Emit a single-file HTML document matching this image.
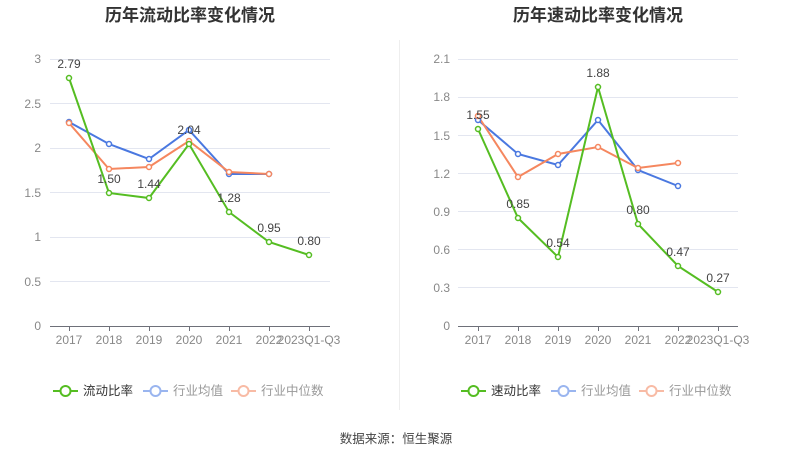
<!DOCTYPE html>
<html><head><meta charset="utf-8"><style>
body{margin:0;background:#fff}
svg text{font-family:"Liberation Sans","Noto Sans CJK SC",sans-serif}
</style></head><body>
<svg width="793" height="459" xmlns="http://www.w3.org/2000/svg">
<text x="190" y="21" text-anchor="middle" font-size="17" font-weight="bold" fill="#333">历年流动比率变化情况</text>
<text x="598" y="21" text-anchor="middle" font-size="17" font-weight="bold" fill="#333">历年速动比率变化情况</text>
<line x1="399.5" y1="40" x2="399.5" y2="410" stroke="#eee"/>
<g stroke="#e3e6f0" stroke-width="1">
<line x1="50" x2="330" y1="59.5" y2="59.5"/><line x1="50" x2="330" y1="103.5" y2="103.5"/><line x1="50" x2="330" y1="148.5" y2="148.5"/><line x1="50" x2="330" y1="192.5" y2="192.5"/><line x1="50" x2="330" y1="237.5" y2="237.5"/><line x1="50" x2="330" y1="281.5" y2="281.5"/>
<line x1="458" x2="738" y1="59.5" y2="59.5"/><line x1="458" x2="738" y1="97.5" y2="97.5"/><line x1="458" x2="738" y1="135.5" y2="135.5"/><line x1="458" x2="738" y1="173.5" y2="173.5"/><line x1="458" x2="738" y1="211.5" y2="211.5"/><line x1="458" x2="738" y1="249.5" y2="249.5"/><line x1="458" x2="738" y1="287.5" y2="287.5"/>
</g>
<g stroke="#6e7079"><line x1="50" x2="330" y1="326.5" y2="326.5"/><line x1="458" x2="738" y1="326.5" y2="326.5"/>
<path d="M69.5 326v5M109.5 326v5M149.5 326v5M189.5 326v5M229.5 326v5M269.5 326v5M309.5 326v5M478.5 326v5M518.5 326v5M558.5 326v5M598.5 326v5M638.5 326v5M678.5 326v5M718.5 326v5"/></g>
<g font-size="12" fill="#888" text-anchor="end">
<text x="41" y="63">3</text><text x="41" y="108">2.5</text><text x="41" y="152">2</text><text x="41" y="197">1.5</text><text x="41" y="241">1</text><text x="41" y="286">0.5</text><text x="41" y="330">0</text>
<text x="450" y="63">2.1</text><text x="450" y="101">1.8</text><text x="450" y="140">1.5</text><text x="450" y="178">1.2</text><text x="450" y="216">0.9</text><text x="450" y="254">0.6</text><text x="450" y="292">0.3</text><text x="450" y="330">0</text>
</g>
<g font-size="12" fill="#888" text-anchor="middle">
<text x="69" y="344">2017</text><text x="109" y="344">2018</text><text x="149" y="344">2019</text><text x="189" y="344">2020</text><text x="229" y="344">2021</text><text x="269" y="344">2022</text><text x="309" y="344">2023Q1-Q3</text>
<text x="478" y="344">2017</text><text x="518" y="344">2018</text><text x="558" y="344">2019</text><text x="598" y="344">2020</text><text x="638" y="344">2021</text><text x="678" y="344">2022</text><text x="718" y="344">2023Q1-Q3</text>
</g>
<g fill="#fff" stroke-width="2">
<polyline fill="none" stroke="#4a78e0" points="69,122 109,144 149,159 189,130 229,174 269,174"/>
<polyline fill="none" stroke="#f5875f" points="69,123 109,169 149,167 189,141 229,172 269,174"/>
<polyline fill="none" stroke="#55bd22" points="69,78 109,193 149,198 189,144 229,212 269,242 309,255"/>
<polyline fill="none" stroke="#4a78e0" points="478,120 518,154 558,165 598,120 638,170 678,186"/>
<polyline fill="none" stroke="#f5875f" points="478,116 518,177 558,154 598,147 638,168 678,163"/>
<polyline fill="none" stroke="#55bd22" points="478,129 518,218 558,257 598,87 638,224 678,266 718,292"/>
<g stroke="#4a78e0" stroke-width="1.5"><circle cx="69" cy="122" r="2.5"/><circle cx="109" cy="144" r="2.5"/><circle cx="149" cy="159" r="2.5"/><circle cx="189" cy="130" r="2.5"/><circle cx="229" cy="174" r="2.5"/><circle cx="269" cy="174" r="2.5"/>
<circle cx="478" cy="120" r="2.5"/><circle cx="518" cy="154" r="2.5"/><circle cx="558" cy="165" r="2.5"/><circle cx="598" cy="120" r="2.5"/><circle cx="638" cy="170" r="2.5"/><circle cx="678" cy="186" r="2.5"/></g>
<g stroke="#f5875f" stroke-width="1.5"><circle cx="69" cy="123" r="2.5"/><circle cx="109" cy="169" r="2.5"/><circle cx="149" cy="167" r="2.5"/><circle cx="189" cy="141" r="2.5"/><circle cx="229" cy="172" r="2.5"/><circle cx="269" cy="174" r="2.5"/>
<circle cx="478" cy="116" r="2.5"/><circle cx="518" cy="177" r="2.5"/><circle cx="558" cy="154" r="2.5"/><circle cx="598" cy="147" r="2.5"/><circle cx="638" cy="168" r="2.5"/><circle cx="678" cy="163" r="2.5"/></g>
<g stroke="#55bd22" stroke-width="1.5"><circle cx="69" cy="78" r="2.5"/><circle cx="109" cy="193" r="2.5"/><circle cx="149" cy="198" r="2.5"/><circle cx="189" cy="144" r="2.5"/><circle cx="229" cy="212" r="2.5"/><circle cx="269" cy="242" r="2.5"/><circle cx="309" cy="255" r="2.5"/>
<circle cx="478" cy="129" r="2.5"/><circle cx="518" cy="218" r="2.5"/><circle cx="558" cy="257" r="2.5"/><circle cx="598" cy="87" r="2.5"/><circle cx="638" cy="224" r="2.5"/><circle cx="678" cy="266" r="2.5"/><circle cx="718" cy="292" r="2.5"/></g>
</g>
<g font-size="12" fill="#444" text-anchor="middle">
<text x="69" y="68">2.79</text><text x="109" y="183">1.50</text><text x="149" y="188">1.44</text><text x="189" y="134">2.04</text><text x="229" y="202">1.28</text><text x="269" y="232">0.95</text><text x="309" y="245">0.80</text>
<text x="478" y="119">1.55</text><text x="518" y="208">0.85</text><text x="558" y="247">0.54</text><text x="598" y="77">1.88</text><text x="638" y="214">0.80</text><text x="678" y="256">0.47</text><text x="718" y="282">0.27</text>
</g>
<g stroke-width="2" fill="#fff">
<line x1="53" x2="78" y1="391" y2="391" stroke="#55bd22"/><circle cx="65.5" cy="391" r="5" stroke="#55bd22"/>
<line x1="143" x2="168" y1="391" y2="391" stroke="#9ab5ef"/><circle cx="155.5" cy="391" r="5" stroke="#9ab5ef"/>
<line x1="231" x2="256" y1="391" y2="391" stroke="#f8bba5"/><circle cx="243.5" cy="391" r="5" stroke="#f8bba5"/>
<line x1="461" x2="486" y1="391" y2="391" stroke="#55bd22"/><circle cx="473.5" cy="391" r="5" stroke="#55bd22"/>
<line x1="551" x2="576" y1="391" y2="391" stroke="#9ab5ef"/><circle cx="563.5" cy="391" r="5" stroke="#9ab5ef"/>
<line x1="639" x2="664" y1="391" y2="391" stroke="#f8bba5"/><circle cx="651.5" cy="391" r="5" stroke="#f8bba5"/>
</g>
<g font-size="12.5">
<text x="83" y="395" fill="#333">流动比率</text><text x="173" y="395" fill="#999">行业均值</text><text x="261" y="395" fill="#999">行业中位数</text>
<text x="491" y="395" fill="#333">速动比率</text><text x="581" y="395" fill="#999">行业均值</text><text x="669" y="395" fill="#999">行业中位数</text>
</g>
<text x="396" y="443" text-anchor="middle" font-size="12.5" fill="#444">数据来源：恒生聚源</text>
</svg>
</body></html>
